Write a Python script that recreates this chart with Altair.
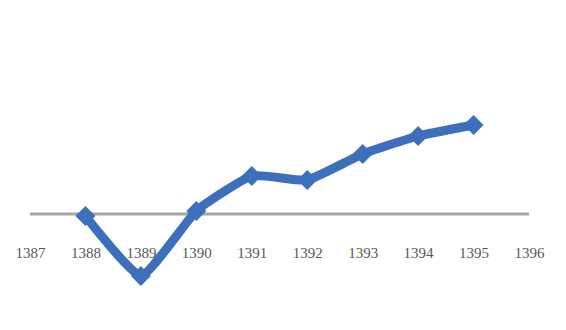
import altair as alt
import pandas as pd

years = [1388, 1389, 1390, 1391, 1392, 1393, 1394, 1395]
values = [-0.2, -6.2, 0.3, 3.8, 3.4, 6.0, 7.8, 8.9]
tick_years = [1387, 1388, 1389, 1390, 1391, 1392, 1393, 1394, 1395, 1396]

df = pd.DataFrame({"year": years, "value": values})

xscale = alt.Scale(domain=[1387, 1396], nice=False, zero=False)
yscale = alt.Scale(domain=[-7.6, 11.4], nice=False, zero=False)

zero = alt.Chart(pd.DataFrame({"z": [0]})).mark_rule(color="#a6a6a6", strokeWidth=3).encode(
    y=alt.Y("z:Q", scale=yscale, axis=None)
)

base = alt.Chart(df).encode(
    x=alt.X("year:Q", scale=xscale,
            axis=alt.Axis(values=tick_years, format="d", domain=False, ticks=False, grid=False,
                          offset=-76, labelPadding=31, labelFont="Liberation Serif",
                          labelFlush=False, labelOverlap=False, zindex=0,
                          labelFontSize=15, labelColor="#595959", title=None)),
    y=alt.Y("value:Q", scale=yscale, axis=None),
)

line = base.mark_line(color="#3d6fba", strokeWidth=9, interpolate="cardinal", tension=0.55)
pts = base.mark_point(shape="diamond", filled=True, size=400, color="#3d6fba", opacity=1)

chart = alt.layer(zero, line, pts).properties(
    width=499, height=190,
    padding={"left": 30, "top": 100, "right": 37, "bottom": 40},
    autosize=alt.AutoSizeParams(type="none"),
    background="white",
).configure_view(stroke=None)

chart.save("out.html", embed_options={"renderer": "svg", "actions": False})
